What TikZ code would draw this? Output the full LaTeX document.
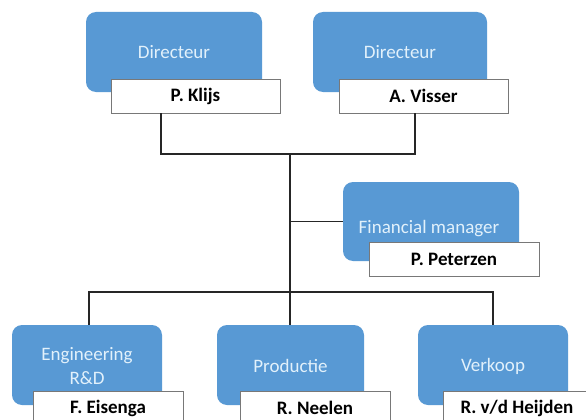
\documentclass[tikz,border=0pt]{standalone}
\usepackage{fontspec}
\setmainfont{Carlito}
\definecolor{boxblue}{RGB}{88,153,212}
\definecolor{paletext}{RGB}{226,241,251}
\definecolor{framegray}{RGB}{120,120,120}
\tikzset{
  rolebox/.style={fill=boxblue, draw=none, rounded corners=10pt, inner sep=0pt},
  roletext/.style={text=paletext, font=\fontsize{19}{24}\selectfont, align=center, inner sep=0pt},
  namebox/.style={fill=white, draw=framegray, line width=0.9pt, inner sep=0pt,
    font=\bfseries\fontsize{19}{22}\selectfont},
  link/.style={draw=black!85, line width=1.3pt}
}
\begin{document}
\begin{tikzpicture}[x=1pt,y=-1pt]
\useasboundingbox (0,0) rectangle (586,420);
\clip (0,0) rectangle (586,420);
\fill[white] (0,0) rectangle (586,420);
% top left
\node[rolebox, minimum width=176pt, minimum height=80pt] (d1) at (174,52) {};
\node[roletext] (d1t) at (174,52) {Directeur};
\node[namebox, minimum width=169pt, minimum height=34pt] (w1) at (195.5,96) {P. Klijs};
% top right
\node[rolebox, minimum width=174pt, minimum height=80pt] (d2) at (400,52) {};
\node[roletext] (d2t) at (400,52) {Directeur};
\node[namebox, minimum width=169pt, minimum height=34pt] (w2) at (423.5,96) {A. Visser};
% financial
\node[rolebox, minimum width=176pt, minimum height=79pt] (f) at (431,221.5) {};
\node[roletext] (ft) at (429,229) {Financial manager};
\node[namebox, minimum width=170pt, minimum height=34pt] (wf) at (454,259) {P. Peterzen};
% bottom row
\node[rolebox, minimum width=150pt, minimum height=80pt] (e) at (87,365) {};
\node[roletext] (et) at (87,366) {Engineering\\R\&D};
\node[namebox, minimum width=150pt, minimum height=34pt] (we) at (108,408) {F. Eisenga};
\node[rolebox, minimum width=147pt, minimum height=80pt] (p) at (290.5,365) {};
\node[roletext] (pt) at (290.5,366) {Productie};
\node[namebox, minimum width=150pt, minimum height=34pt] (wp) at (315,408) {R. Neelen};
\node[rolebox, minimum width=150pt, minimum height=80pt] (v) at (493,365) {};
\node[roletext] (vt) at (493,366) {Verkoop};
\node[namebox, minimum width=148pt, minimum height=34pt] (wv) at (517,408) {R. v/d Heijden};
% junctions
\coordinate (j1) at (161,154);
\coordinate (j2) at (415,154);
\coordinate (t) at (290,154);
\coordinate (bl) at (89,292);
\coordinate (br) at (493,292);
% connectors
\draw[link] (j1 |- w1.south) -- (j1) -- (j2) -- (j2 |- w2.south);
\draw[link] (t) -- (t |- p.north);
\draw[link] (t |- f.west) -- (f.west);
\draw[link] (bl |- e.north) -- (bl) -- (br) -- (br |- v.north);
\end{tikzpicture}
\end{document}
